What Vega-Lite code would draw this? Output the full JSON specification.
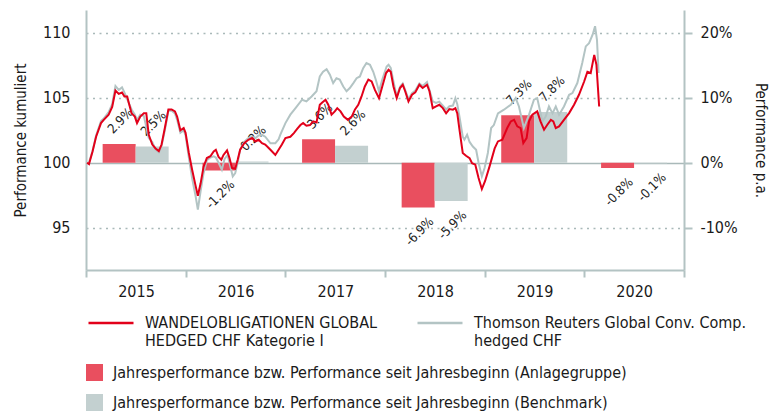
{
  "$schema": "https://vega.github.io/schema/vega-lite/v6.json",
  "width": 598,
  "height": 260,
  "autosize": {"type": "none"},
  "padding": {"left": 86, "top": 10, "right": 94, "bottom": 142},
  "background": "white",
  "config": {
    "font": "DejaVu Sans Condensed, DejaVu Sans, sans-serif",
    "view": {"stroke": null},
    "axis": {"labelColor": "#1a1a1a", "titleColor": "#1a1a1a", "titleFontWeight": "normal", "labelFont": "DejaVu Sans Condensed, DejaVu Sans", "titleFont": "DejaVu Sans Condensed, DejaVu Sans"},
    "legend": {"labelFont": "DejaVu Sans Condensed, DejaVu Sans", "labelColor": "#1a1a1a"}
  },
  "datasets": {
    "fund": [
      {"date": "2015-01-05", "value": 100.0},
      {"date": "2015-01-12", "value": 99.9},
      {"date": "2015-01-25", "value": 100.87},
      {"date": "2015-02-07", "value": 102.0},
      {"date": "2015-02-25", "value": 103.05},
      {"date": "2015-03-07", "value": 103.3},
      {"date": "2015-03-25", "value": 103.7},
      {"date": "2015-04-07", "value": 104.3},
      {"date": "2015-04-19", "value": 105.56},
      {"date": "2015-05-01", "value": 105.3},
      {"date": "2015-05-13", "value": 105.4},
      {"date": "2015-05-22", "value": 105.1},
      {"date": "2015-06-01", "value": 105.1},
      {"date": "2015-06-07", "value": 104.6},
      {"date": "2015-06-17", "value": 103.8},
      {"date": "2015-06-29", "value": 103.55},
      {"date": "2015-07-07", "value": 103.05},
      {"date": "2015-07-19", "value": 103.55},
      {"date": "2015-08-01", "value": 103.8},
      {"date": "2015-08-10", "value": 103.8},
      {"date": "2015-08-19", "value": 102.15},
      {"date": "2015-09-01", "value": 101.4},
      {"date": "2015-09-13", "value": 101.1},
      {"date": "2015-09-25", "value": 100.9},
      {"date": "2015-10-05", "value": 101.4},
      {"date": "2015-10-17", "value": 102.67},
      {"date": "2015-10-30", "value": 104.1},
      {"date": "2015-11-11", "value": 104.1},
      {"date": "2015-11-23", "value": 103.95},
      {"date": "2015-12-01", "value": 103.55},
      {"date": "2015-12-13", "value": 102.5},
      {"date": "2015-12-25", "value": 102.67},
      {"date": "2016-01-01", "value": 102.3},
      {"date": "2016-01-13", "value": 100.75},
      {"date": "2016-01-25", "value": 99.46},
      {"date": "2016-02-07", "value": 98.2},
      {"date": "2016-02-15", "value": 97.46},
      {"date": "2016-02-25", "value": 98.4},
      {"date": "2016-03-07", "value": 99.7},
      {"date": "2016-03-19", "value": 100.36},
      {"date": "2016-04-01", "value": 100.5},
      {"date": "2016-04-13", "value": 100.87},
      {"date": "2016-04-21", "value": 101.0},
      {"date": "2016-05-01", "value": 100.44},
      {"date": "2016-05-11", "value": 100.23},
      {"date": "2016-05-19", "value": 100.6},
      {"date": "2016-06-01", "value": 100.95},
      {"date": "2016-06-10", "value": 100.36},
      {"date": "2016-06-19", "value": 99.6},
      {"date": "2016-07-01", "value": 99.54},
      {"date": "2016-07-10", "value": 100.23},
      {"date": "2016-07-19", "value": 101.0},
      {"date": "2016-08-03", "value": 101.5},
      {"date": "2016-08-18", "value": 101.77},
      {"date": "2016-09-01", "value": 101.9},
      {"date": "2016-09-13", "value": 101.64},
      {"date": "2016-09-25", "value": 101.77},
      {"date": "2016-10-07", "value": 101.5},
      {"date": "2016-10-19", "value": 101.4},
      {"date": "2016-11-07", "value": 101.0},
      {"date": "2016-11-25", "value": 100.6},
      {"date": "2016-12-07", "value": 101.0},
      {"date": "2016-12-19", "value": 101.4},
      {"date": "2017-01-01", "value": 101.9},
      {"date": "2017-01-19", "value": 102.0},
      {"date": "2017-02-01", "value": 102.28},
      {"date": "2017-02-13", "value": 102.6},
      {"date": "2017-02-25", "value": 102.9},
      {"date": "2017-03-07", "value": 103.05},
      {"date": "2017-03-19", "value": 102.85},
      {"date": "2017-04-01", "value": 102.9},
      {"date": "2017-04-13", "value": 103.18},
      {"date": "2017-04-25", "value": 103.1},
      {"date": "2017-05-07", "value": 104.46},
      {"date": "2017-05-16", "value": 104.64},
      {"date": "2017-05-28", "value": 104.85},
      {"date": "2017-06-07", "value": 104.46},
      {"date": "2017-06-19", "value": 103.7},
      {"date": "2017-07-01", "value": 103.95},
      {"date": "2017-07-10", "value": 104.2},
      {"date": "2017-07-22", "value": 103.95},
      {"date": "2017-08-03", "value": 103.55},
      {"date": "2017-08-18", "value": 103.3},
      {"date": "2017-09-01", "value": 103.55},
      {"date": "2017-09-13", "value": 104.1},
      {"date": "2017-09-25", "value": 104.46},
      {"date": "2017-10-07", "value": 105.1},
      {"date": "2017-10-19", "value": 105.87},
      {"date": "2017-11-01", "value": 106.4},
      {"date": "2017-11-13", "value": 106.25},
      {"date": "2017-11-25", "value": 105.6},
      {"date": "2017-12-10", "value": 104.97},
      {"date": "2017-12-22", "value": 105.87},
      {"date": "2018-01-05", "value": 106.9},
      {"date": "2018-01-14", "value": 107.15},
      {"date": "2018-01-22", "value": 107.0},
      {"date": "2018-02-01", "value": 105.87},
      {"date": "2018-02-13", "value": 104.97},
      {"date": "2018-02-25", "value": 105.75},
      {"date": "2018-03-07", "value": 106.0},
      {"date": "2018-03-16", "value": 105.5},
      {"date": "2018-03-28", "value": 104.72},
      {"date": "2018-04-10", "value": 105.23},
      {"date": "2018-04-22", "value": 105.41},
      {"date": "2018-05-07", "value": 106.0},
      {"date": "2018-05-19", "value": 105.75},
      {"date": "2018-06-04", "value": 106.0},
      {"date": "2018-06-13", "value": 105.5},
      {"date": "2018-06-25", "value": 104.2},
      {"date": "2018-07-07", "value": 104.33},
      {"date": "2018-07-19", "value": 104.46},
      {"date": "2018-08-01", "value": 104.2},
      {"date": "2018-08-13", "value": 103.8},
      {"date": "2018-08-25", "value": 104.13},
      {"date": "2018-09-07", "value": 104.08},
      {"date": "2018-09-16", "value": 104.2},
      {"date": "2018-09-23", "value": 103.8},
      {"date": "2018-10-01", "value": 102.54},
      {"date": "2018-10-13", "value": 100.75},
      {"date": "2018-10-25", "value": 100.54},
      {"date": "2018-11-07", "value": 100.36},
      {"date": "2018-11-16", "value": 99.97},
      {"date": "2018-11-28", "value": 99.85},
      {"date": "2018-12-10", "value": 98.82},
      {"date": "2018-12-22", "value": 97.98},
      {"date": "2019-01-03", "value": 98.6},
      {"date": "2019-01-19", "value": 99.7},
      {"date": "2019-02-07", "value": 101.1},
      {"date": "2019-02-19", "value": 101.64},
      {"date": "2019-03-07", "value": 101.77},
      {"date": "2019-03-25", "value": 102.67},
      {"date": "2019-04-07", "value": 103.18},
      {"date": "2019-04-19", "value": 103.3},
      {"date": "2019-05-01", "value": 102.8},
      {"date": "2019-05-13", "value": 102.67},
      {"date": "2019-05-23", "value": 101.51},
      {"date": "2019-06-04", "value": 101.9},
      {"date": "2019-06-13", "value": 103.18},
      {"date": "2019-06-25", "value": 103.7},
      {"date": "2019-07-13", "value": 103.95},
      {"date": "2019-07-25", "value": 103.18},
      {"date": "2019-08-07", "value": 102.54},
      {"date": "2019-08-19", "value": 102.92},
      {"date": "2019-09-01", "value": 103.3},
      {"date": "2019-09-10", "value": 103.18},
      {"date": "2019-09-19", "value": 102.67},
      {"date": "2019-10-01", "value": 102.8},
      {"date": "2019-10-19", "value": 103.3},
      {"date": "2019-11-07", "value": 103.82},
      {"date": "2019-11-25", "value": 104.46},
      {"date": "2019-12-13", "value": 105.23},
      {"date": "2020-01-01", "value": 106.25},
      {"date": "2020-01-13", "value": 107.0},
      {"date": "2020-01-25", "value": 106.9},
      {"date": "2020-02-07", "value": 108.3},
      {"date": "2020-02-15", "value": 107.54},
      {"date": "2020-02-25", "value": 104.33}
    ],
    "bench": [
      {"date": "2015-01-05", "value": 100.0},
      {"date": "2015-01-11", "value": 99.95},
      {"date": "2015-01-25", "value": 100.9},
      {"date": "2015-02-07", "value": 102.1},
      {"date": "2015-02-25", "value": 103.2},
      {"date": "2015-03-07", "value": 103.4},
      {"date": "2015-03-25", "value": 103.9},
      {"date": "2015-04-07", "value": 104.5},
      {"date": "2015-04-19", "value": 105.9},
      {"date": "2015-05-01", "value": 105.6},
      {"date": "2015-05-13", "value": 105.8},
      {"date": "2015-05-22", "value": 105.4},
      {"date": "2015-06-01", "value": 104.9},
      {"date": "2015-06-17", "value": 104.1},
      {"date": "2015-06-29", "value": 103.7},
      {"date": "2015-07-07", "value": 103.3},
      {"date": "2015-07-19", "value": 103.7},
      {"date": "2015-08-01", "value": 103.6},
      {"date": "2015-08-19", "value": 101.9},
      {"date": "2015-09-01", "value": 101.6},
      {"date": "2015-09-13", "value": 101.0},
      {"date": "2015-09-25", "value": 100.8},
      {"date": "2015-10-05", "value": 101.3},
      {"date": "2015-10-17", "value": 102.5},
      {"date": "2015-10-30", "value": 104.0},
      {"date": "2015-11-11", "value": 104.0},
      {"date": "2015-11-23", "value": 103.8},
      {"date": "2015-12-01", "value": 103.3},
      {"date": "2015-12-13", "value": 102.3},
      {"date": "2015-12-25", "value": 102.5},
      {"date": "2016-01-01", "value": 102.1},
      {"date": "2016-01-13", "value": 100.4},
      {"date": "2016-01-25", "value": 98.8},
      {"date": "2016-02-07", "value": 97.4},
      {"date": "2016-02-15", "value": 96.4},
      {"date": "2016-02-25", "value": 97.8},
      {"date": "2016-03-07", "value": 99.2},
      {"date": "2016-03-19", "value": 100.2},
      {"date": "2016-04-01", "value": 100.4},
      {"date": "2016-04-13", "value": 100.5},
      {"date": "2016-04-21", "value": 100.4},
      {"date": "2016-05-01", "value": 100.0},
      {"date": "2016-05-13", "value": 99.46},
      {"date": "2016-05-23", "value": 100.3},
      {"date": "2016-06-03", "value": 100.6},
      {"date": "2016-06-12", "value": 99.8},
      {"date": "2016-06-22", "value": 98.95},
      {"date": "2016-07-01", "value": 99.2},
      {"date": "2016-07-10", "value": 100.0},
      {"date": "2016-07-19", "value": 101.0},
      {"date": "2016-08-03", "value": 101.6},
      {"date": "2016-08-18", "value": 101.9},
      {"date": "2016-09-01", "value": 102.0},
      {"date": "2016-09-13", "value": 101.9},
      {"date": "2016-09-25", "value": 102.1},
      {"date": "2016-10-07", "value": 102.15},
      {"date": "2016-10-19", "value": 102.0},
      {"date": "2016-11-07", "value": 101.5},
      {"date": "2016-11-25", "value": 101.5},
      {"date": "2016-12-07", "value": 101.8},
      {"date": "2016-12-13", "value": 102.15},
      {"date": "2017-01-01", "value": 103.05},
      {"date": "2017-01-19", "value": 103.7},
      {"date": "2017-02-07", "value": 104.2},
      {"date": "2017-03-03", "value": 104.85},
      {"date": "2017-03-19", "value": 104.72},
      {"date": "2017-04-07", "value": 105.1},
      {"date": "2017-04-25", "value": 105.5},
      {"date": "2017-05-07", "value": 106.64},
      {"date": "2017-05-19", "value": 107.0},
      {"date": "2017-06-01", "value": 107.2},
      {"date": "2017-06-13", "value": 106.77},
      {"date": "2017-06-25", "value": 106.13},
      {"date": "2017-07-07", "value": 106.5},
      {"date": "2017-07-19", "value": 106.4},
      {"date": "2017-08-01", "value": 105.87},
      {"date": "2017-08-13", "value": 105.5},
      {"date": "2017-08-25", "value": 105.75},
      {"date": "2017-09-07", "value": 106.13},
      {"date": "2017-09-19", "value": 106.5},
      {"date": "2017-10-01", "value": 106.64},
      {"date": "2017-10-13", "value": 107.28},
      {"date": "2017-10-25", "value": 107.67},
      {"date": "2017-11-07", "value": 107.54},
      {"date": "2017-11-19", "value": 107.0},
      {"date": "2017-11-28", "value": 106.4},
      {"date": "2017-12-10", "value": 105.5},
      {"date": "2017-12-22", "value": 106.4},
      {"date": "2018-01-07", "value": 107.4},
      {"date": "2018-01-14", "value": 107.54},
      {"date": "2018-01-22", "value": 107.3},
      {"date": "2018-02-01", "value": 106.25},
      {"date": "2018-02-13", "value": 105.1},
      {"date": "2018-02-25", "value": 105.85},
      {"date": "2018-03-07", "value": 106.1},
      {"date": "2018-03-16", "value": 105.6},
      {"date": "2018-03-28", "value": 104.9},
      {"date": "2018-04-10", "value": 105.35},
      {"date": "2018-04-22", "value": 105.55},
      {"date": "2018-05-07", "value": 106.1},
      {"date": "2018-05-19", "value": 105.9},
      {"date": "2018-06-04", "value": 106.2},
      {"date": "2018-06-13", "value": 105.6},
      {"date": "2018-06-25", "value": 104.72},
      {"date": "2018-07-07", "value": 104.6},
      {"date": "2018-07-19", "value": 104.7},
      {"date": "2018-08-01", "value": 104.4},
      {"date": "2018-08-13", "value": 104.1},
      {"date": "2018-08-25", "value": 104.35},
      {"date": "2018-09-07", "value": 104.4},
      {"date": "2018-09-16", "value": 104.97},
      {"date": "2018-09-23", "value": 104.5},
      {"date": "2018-10-01", "value": 103.55},
      {"date": "2018-10-13", "value": 102.0},
      {"date": "2018-10-19", "value": 101.77},
      {"date": "2018-10-29", "value": 102.15},
      {"date": "2018-11-07", "value": 101.6},
      {"date": "2018-11-19", "value": 101.25},
      {"date": "2018-12-01", "value": 101.0},
      {"date": "2018-12-10", "value": 100.0},
      {"date": "2018-12-22", "value": 98.95},
      {"date": "2019-01-01", "value": 99.6},
      {"date": "2019-01-13", "value": 100.75},
      {"date": "2019-01-25", "value": 102.67},
      {"date": "2019-02-04", "value": 102.9},
      {"date": "2019-02-19", "value": 103.8},
      {"date": "2019-03-13", "value": 104.08},
      {"date": "2019-04-07", "value": 104.46},
      {"date": "2019-04-25", "value": 104.97},
      {"date": "2019-05-07", "value": 104.33},
      {"date": "2019-05-25", "value": 102.67},
      {"date": "2019-06-13", "value": 103.7},
      {"date": "2019-07-01", "value": 104.85},
      {"date": "2019-07-13", "value": 104.97},
      {"date": "2019-08-01", "value": 103.18},
      {"date": "2019-08-13", "value": 103.55},
      {"date": "2019-08-25", "value": 104.33},
      {"date": "2019-09-07", "value": 103.8},
      {"date": "2019-09-19", "value": 104.33},
      {"date": "2019-10-01", "value": 103.7},
      {"date": "2019-10-19", "value": 104.33},
      {"date": "2019-11-07", "value": 105.23},
      {"date": "2019-11-19", "value": 105.36},
      {"date": "2019-12-07", "value": 106.13},
      {"date": "2019-12-25", "value": 107.67},
      {"date": "2020-01-07", "value": 108.95},
      {"date": "2020-01-19", "value": 109.2},
      {"date": "2020-02-01", "value": 109.85},
      {"date": "2020-02-10", "value": 110.5},
      {"date": "2020-02-17", "value": 109.46},
      {"date": "2020-02-23", "value": 106.9}
    ],
    "years": [
      {"date": "2015-07-02", "fund": 2.9, "bench": 2.5, "fundLabel": "2.9%", "benchLabel": "2.5%"},
      {"date": "2016-07-02", "fund": -1.2, "bench": 0.2, "fundLabel": "-1.2%", "benchLabel": "0.2%"},
      {"date": "2017-07-02", "fund": 3.6, "bench": 2.6, "fundLabel": "3.6%", "benchLabel": "2.6%"},
      {"date": "2018-07-02", "fund": -6.9, "bench": -5.9, "fundLabel": "-6.9%", "benchLabel": "-5.9%"},
      {"date": "2019-07-02", "fund": 7.3, "bench": 7.8, "fundLabel": "7.3%", "benchLabel": "7.8%"},
      {"date": "2020-07-02", "fund": -0.8, "bench": -0.1, "fundLabel": "-0.8%", "benchLabel": "-0.1%"}
    ]
  },
  "layer": [
    {
      "data": {"name": "years"},
      "layer": [
        {
          "mark": {"type": "bar", "width": 33, "xOffset": -16.5},
          "encoding": {
            "x": {"field": "date", "type": "temporal", "scale": {"type": "utc", "padding": 0, "domain": [{"year": 2015, "utc": true}, {"year": 2021, "utc": true}]},
              "axis": {"title": null, "values": [{"year": 2015, "utc": true}, {"year": 2016, "utc": true}, {"year": 2017, "utc": true}, {"year": 2018, "utc": true}, {"year": 2019, "utc": true}, {"year": 2020, "utc": true}, {"year": 2021, "utc": true}],
                "format": "%Y", "labelExpr": "datum.label == '2021' ? '' : datum.label", "labelOffset": 50, "labelFontSize": 16, "labelPadding": 6,
                "grid": false, "domainColor": "#b3c3c3", "domainWidth": 2, "tickColor": "#b3c3c3", "tickWidth": 2, "tickSize": 7, "labelAlign": "center", "labelBaseline": "top"}},
            "y": {"field": "fund", "type": "quantitative", "scale": {"domain": [-16.5, 23.5], "nice": false, "zero": false},
              "axis": {"orient": "right", "title": "Performance p.a.", "values": [-10, 0, 10, 20], "labelExpr": "datum.value + '%'", "labelFontSize": 16, "labelPadding": 8, "tickSize": 8, "tickColor": "#b3c3c3", "tickWidth": 2, "domainColor": "#b3c3c3", "domainWidth": 2, "grid": false, "titleFontSize": 15, "titlePadding": 15}},
            "fill": {"datum": "Jahresperformance bzw. Performance seit Jahresbeginn (Anlagegruppe)", "type": "nominal",
              "scale": {"domain": ["Jahresperformance bzw. Performance seit Jahresbeginn (Anlagegruppe)", "Jahresperformance bzw. Performance seit Jahresbeginn (Benchmark)"], "range": ["#e94f5f", "#c3d0d0"]},
              "legend": {"orient": "none", "legendX": 0, "legendY": 354, "direction": "vertical", "title": null, "symbolType": "square", "symbolSize": 289, "symbolStrokeWidth": 0, "labelFontSize": 16, "labelOffset": 10, "rowPadding": 13, "padding": 0, "labelLimit": 700}}
          }
        },
        {
          "mark": {"type": "bar", "width": 33, "xOffset": 16.5},
          "encoding": {
            "x": {"field": "date", "type": "temporal"},
            "y": {"field": "bench", "type": "quantitative"},
            "fill": {"datum": "Jahresperformance bzw. Performance seit Jahresbeginn (Benchmark)", "type": "nominal"}
          }
        },
        {
          "mark": {"type": "text", "angle": -45, "align": "center", "baseline": "middle", "fontSize": 13, "fill": "#222222", "xOffset": -15, "yOffset": {"expr": "datum.fund < 0 ? 24 : -23"}},
          "encoding": {
            "x": {"field": "date", "type": "temporal"},
            "y": {"field": "fund", "type": "quantitative"},
            "text": {"field": "fundLabel"}
          }
        },
        {
          "mark": {"type": "text", "angle": -45, "align": "center", "baseline": "middle", "fontSize": 13, "fill": "#222222", "xOffset": 18, "yOffset": {"expr": "datum.bench < 0 ? 24 : -23"}},
          "encoding": {
            "x": {"field": "date", "type": "temporal"},
            "y": {"field": "bench", "type": "quantitative"},
            "text": {"field": "benchLabel"}
          }
        }
      ]
    },
    {
      "layer": [
        {
          "data": {"name": "bench"},
          "mark": {"type": "line", "strokeWidth": 2},
          "encoding": {
            "x": {"field": "date", "type": "temporal"},
            "y": {"field": "value", "type": "quantitative", "scale": {"domain": [91.75, 111.75], "nice": false, "zero": false},
              "axis": {"orient": "left", "title": "Performance kumuliert", "values": [95, 100, 105, 110], "labelFontSize": 16, "labelPadding": 16, "tickSize": 0, "domainColor": "#b3c3c3", "domainWidth": 2,
                "grid": true, "gridColor": "#a9b9b9", "gridWidth": 1.5, "gridDash": {"condition": {"test": "datum.value === 100", "value": []}, "value": [2, 4.5]},
                "titleFontSize": 15, "titlePadding": 14}},
            "stroke": {"datum": "Thomson Reuters Global Conv. Comp.|hedged CHF", "type": "nominal",
              "scale": {"domain": ["WANDELOBLIGATIONEN GLOBAL|HEDGED CHF Kategorie I", "Thomson Reuters Global Conv. Comp.|hedged CHF"], "range": ["#e2001a", "#b3c4c4"]},
              "legend": {"orient": "none", "legendX": 1, "legendY": 289, "direction": "horizontal", "columns": 2, "title": null, "symbolType": "stroke", "symbolSize": 2025, "symbolStrokeWidth": 2.5,
                "labelFontSize": 16, "labelOffset": 10, "columnPadding": 34, "padding": 0, "labelLimit": 400, "labelExpr": "split(datum.label, '|')"}}
          }
        },
        {
          "data": {"name": "fund"},
          "mark": {"type": "line", "strokeWidth": 2},
          "encoding": {
            "x": {"field": "date", "type": "temporal"},
            "y": {"field": "value", "type": "quantitative"},
            "stroke": {"datum": "WANDELOBLIGATIONEN GLOBAL|HEDGED CHF Kategorie I", "type": "nominal"}
          }
        }
      ]
    }
  ],
  "resolve": {"scale": {"y": "independent"}}
}
